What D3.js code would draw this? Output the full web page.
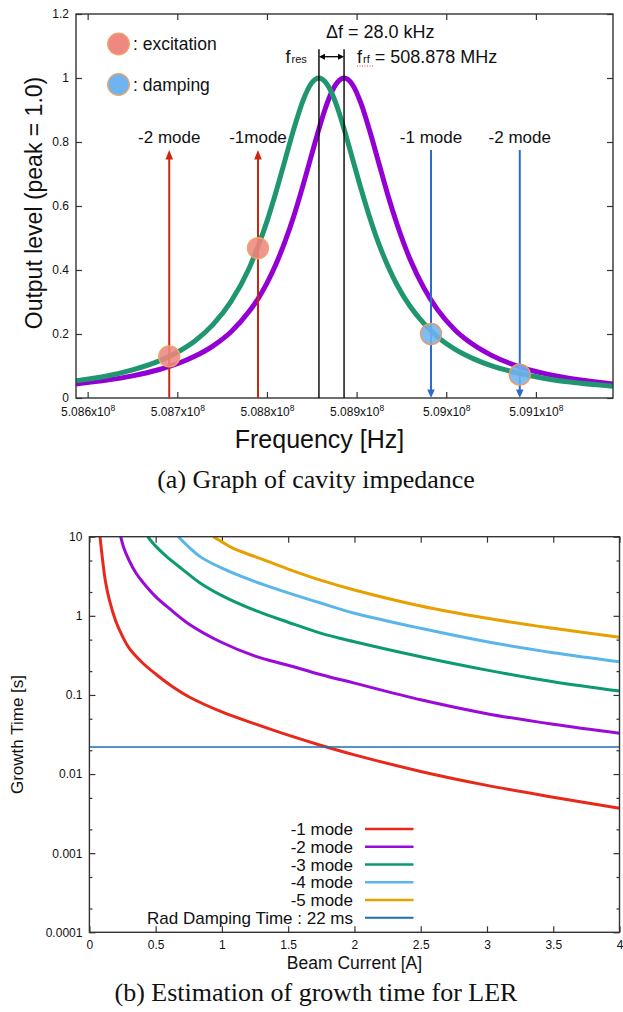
<!DOCTYPE html>
<html><head><meta charset="utf-8">
<script src="https://cdn.jsdelivr.net/npm/d3@7"></script>
<style>
html,body{margin:0;padding:0;background:#fff;}
svg{display:block;}
text{font-family:"Liberation Sans", Arial, Helvetica, sans-serif;fill:#111;}
</style></head><body>
<svg id="chart" width="623" height="1012"></svg>
<script>
// ===== Panel (a): cavity impedance =====
const freqMHz = [508.587, 508.62, 508.65, 508.68, 508.70, 508.72, 508.74, 508.76, 508.78, 508.79, 508.80, 508.81, 508.82, 508.83, 508.84, 508.85, 508.858, 508.865, 508.872, 508.879, 508.886, 508.895, 508.905, 508.915, 508.925, 508.935, 508.945, 508.96, 508.975, 508.99, 509.01, 509.03, 509.05, 509.08, 509.11, 509.15, 509.186];
const levelRes = [0.054, 0.068, 0.088, 0.116, 0.143, 0.179, 0.230, 0.302, 0.405, 0.473, 0.552, 0.643, 0.742, 0.841, 0.928, 0.985, 1.0, 0.988, 0.955, 0.904, 0.841, 0.752, 0.653, 0.561, 0.480, 0.412, 0.354, 0.285, 0.233, 0.192, 0.152, 0.123, 0.101, 0.078, 0.061, 0.046, 0.037];
const levelRf = [0.044, 0.055, 0.069, 0.089, 0.107, 0.131, 0.163, 0.207, 0.270, 0.310, 0.359, 0.418, 0.488, 0.569, 0.662, 0.762, 0.841, 0.904, 0.955, 0.988, 1.0, 0.981, 0.920, 0.831, 0.732, 0.633, 0.544, 0.431, 0.344, 0.277, 0.212, 0.167, 0.134, 0.099, 0.076, 0.056, 0.044];
const xTicksA = [508.6, 508.7, 508.8, 508.9, 509.0, 509.1];
const xTickLabelsA = ["5.086", "5.087", "5.088", "5.089", "5.09", "5.091"];
const yTicksA = [0, 0.2, 0.4, 0.6, 0.8, 1, 1.2];
const yTickLabelsA = ["0", "0.2", "0.4", "0.6", "0.8", "1", "1.2"];
const fRes = 508.858, fRf = 508.886;
const excitationLabels = ["-2 mode", "-1mode"];
const excitationFreq = [508.691, 508.790];
const excitationLevel = [0.13, 0.468];
const dampingLabels = ["-1 mode", "-2 mode"];
const dampingFreq = [508.983, 509.082];
const dampingLevel = [0.2, 0.073];
const arrowLevel = 0.775;

// ===== Panel (b): growth time =====
const currentTicks = [0, 0.5, 1, 1.5, 2, 2.5, 3, 3.5, 4];
const currentTickLabels = ["0", "0.5", "1", "1.5", "2", "2.5", "3", "3.5", "4"];
const tauTicks = [1e-4, 1e-3, 1e-2, 0.1, 1, 10];
const tauTickLabels = ["0.0001", "0.001", "0.01", "0.1", "1", "10"];
const mode1 = [[0.08,10],[0.1,5.0],[0.12,2.8],[0.15,1.6],[0.2,0.85],[0.25,0.55],[0.3,0.39],[0.4,0.255],[0.5,0.184],[0.625,0.128],[0.75,0.095],[1.0,0.061],[1.25,0.043],[1.5,0.031],[1.75,0.023],[2.0,0.0175],[2.5,0.0108],[3.0,0.0072],[3.5,0.0051],[4.0,0.0037]];
const mode2 = [[0.236,10],[0.26,7.2],[0.3,5.0],[0.35,3.5],[0.4,2.7],[0.5,1.75],[0.6,1.25],[0.75,0.79],[1.0,0.46],[1.25,0.31],[1.5,0.237],[1.75,0.18],[2.0,0.141],[2.5,0.087],[3.0,0.058],[3.5,0.0425],[4.0,0.0327]];
const mode3 = [[0.44,10],[0.5,7.6],[0.583,5.6],[0.7,3.9],[0.835,2.6],[1.0,1.8],[1.25,1.17],[1.5,0.83],[1.75,0.6],[2.0,0.47],[2.5,0.304],[3.0,0.206],[3.5,0.147],[4.0,0.112]];
const mode4 = [[0.671,10],[0.75,7.4],[0.835,5.6],[1.0,4.0],[1.25,2.7],[1.5,1.95],[1.75,1.44],[2.0,1.08],[2.5,0.695],[3.0,0.47],[3.5,0.342],[4.0,0.263]];
const mode5 = [[0.935,10],[1.0,8.6],[1.086,7.1],[1.25,5.6],[1.5,3.9],[1.75,2.8],[2.0,2.12],[2.5,1.33],[3.0,0.93],[3.5,0.695],[4.0,0.535]];
const radDampingTime = 0.022;
const legendLabels = ["-1 mode", "-2 mode", "-3 mode", "-4 mode", "-5 mode", "Rad Damping Time : 22 ms"];
const modeColors = ["#e8281a", "#9a0ad8", "#0c9a72", "#5ab6ea", "#e8a000", "#1f6fae"];

const svg = d3.select("#chart");
const axisColor = "#333";

// ---------------- Panel (a) ----------------
const A = {l: 76, r: 613, t: 14, b: 398};
const xA = d3.scaleLinear().domain([508.587, 509.186]).range([A.l, A.r]);
const yA = d3.scaleLinear().domain([0, 1.2]).range([A.b, A.t]);
const gA = svg.append("g");
svg.append("defs").append("clipPath").attr("id", "clipA")
  .append("rect").attr("x", A.l).attr("y", A.t).attr("width", A.r - A.l).attr("height", A.b - A.t);

function styleAxis(g) {
  g.select(".domain").remove();
  g.selectAll(".tick line").attr("stroke", axisColor).attr("stroke-width", 1.2);
  g.selectAll(".tick text").attr("font-size", "12px").attr("fill", "#111")
    .attr("font-family", "'Liberation Sans', Arial, sans-serif");
}

const xAxA = gA.append("g").attr("transform", `translate(0,${A.b})`)
  .call(d3.axisBottom(xA).tickValues(xTicksA).tickSize(-6).tickPadding(9).tickFormat((d, i) => xTickLabelsA[i]));
styleAxis(xAxA);
xAxA.selectAll(".tick text").each(function(d, i) {
  const t = d3.select(this);
  t.text(null);
  t.append("tspan").text(xTickLabelsA[i] + "x10");
  t.append("tspan").attr("dy", "-5").attr("font-size", "8.5px").text("8");
});
styleAxis(gA.append("g").attr("transform", `translate(0,${A.t})`)
  .call(d3.axisTop(xA).tickValues(xTicksA).tickSize(-6).tickFormat("")));
styleAxis(gA.append("g").attr("transform", `translate(${A.l},0)`)
  .call(d3.axisLeft(yA).tickValues(yTicksA).tickSize(-6).tickPadding(7).tickFormat((d, i) => yTickLabelsA[i])));
styleAxis(gA.append("g").attr("transform", `translate(${A.r},0)`)
  .call(d3.axisRight(yA).tickValues(yTicksA).tickSize(-6).tickFormat("")));

const lineA = d3.line().x(d => xA(d[0])).y(d => yA(d[1])).curve(d3.curveMonotoneX);
const curvesA = gA.append("g").attr("clip-path", "url(#clipA)");
curvesA.append("path").datum(freqMHz.map((f, i) => [f, levelRf[i]]))
  .attr("d", lineA).attr("fill", "none").attr("stroke", "#9400d3").attr("stroke-width", 5);
curvesA.append("path").datum(freqMHz.map((f, i) => [f, levelRes[i]]))
  .attr("d", lineA).attr("fill", "none").attr("stroke", "#1f9670").attr("stroke-width", 5);

gA.append("rect").attr("x", A.l).attr("y", A.t).attr("width", A.r - A.l).attr("height", A.b - A.t)
  .attr("fill", "none").attr("stroke", axisColor).attr("stroke-width", 1.4);

// resonance / rf vertical lines
const vTop = 49.3;
[fRes, fRf].forEach(f => {
  gA.append("line").attr("x1", xA(f)).attr("x2", xA(f)).attr("y1", vTop).attr("y2", yA(0))
    .attr("stroke", "#000").attr("stroke-width", 1.4);
});
// double arrow
const dy = 56.7, x1 = xA(fRes), x2 = xA(fRf);
gA.append("line").attr("x1", x1 + 4).attr("x2", x2 - 4).attr("y1", dy).attr("y2", dy).attr("stroke", "#000").attr("stroke-width", 1.3);
gA.append("path").attr("d", `M${x1},${dy}L${x1 + 6},${dy - 3}L${x1 + 6},${dy + 3}Z`).attr("fill", "#000");
gA.append("path").attr("d", `M${x2},${dy}L${x2 - 6},${dy - 3}L${x2 - 6},${dy + 3}Z`).attr("fill", "#000");

// excitation arrows (up, red)
const redC = "#c9280e", blueC = "#2d6cc6";
excitationFreq.forEach((f, i) => {
  const x = xA(f), tip = yA(arrowLevel);
  gA.append("line").attr("x1", x).attr("x2", x).attr("y1", yA(0)).attr("y2", tip + 8)
    .attr("stroke", redC).attr("stroke-width", 2);
  gA.append("path").attr("d", `M${x},${tip}L${x - 3.8},${tip + 9.5}L${x + 3.8},${tip + 9.5}Z`).attr("fill", redC);
  gA.append("text").attr("x", x).attr("y", tip - 7.5).attr("text-anchor", "middle")
    .attr("font-size", "17px").text(excitationLabels[i]);
});
// damping arrows (down, blue)
dampingFreq.forEach((f, i) => {
  const x = xA(f), tip = yA(0), top = yA(arrowLevel);
  gA.append("line").attr("x1", x).attr("x2", x).attr("y1", top).attr("y2", tip - 8)
    .attr("stroke", blueC).attr("stroke-width", 2);
  gA.append("path").attr("d", `M${x},${tip}L${x - 3.8},${tip - 8.5}L${x + 3.8},${tip - 8.5}Z`).attr("fill", blueC);
  gA.append("text").attr("x", x).attr("y", top - 7.5).attr("text-anchor", "middle")
    .attr("font-size", "17px").text(dampingLabels[i]);
});
// circles
excitationFreq.forEach((f, i) => {
  gA.append("circle").attr("cx", xA(f)).attr("cy", yA(excitationLevel[i])).attr("r", 10.5)
    .attr("fill", "#ee8880").attr("fill-opacity", 0.88).attr("stroke", "#f0a468").attr("stroke-width", 1.3);
});
dampingFreq.forEach((f, i) => {
  gA.append("circle").attr("cx", xA(f)).attr("cy", yA(dampingLevel[i])).attr("r", 10.5)
    .attr("fill", "#6fb4ef").attr("fill-opacity", 0.88).attr("stroke", "#ec9a62").attr("stroke-width", 1.3);
});

// legend (a)
const legA = [["#ee8880", ": excitation", 44], ["#6fb4ef", ": damping", 84.5]];
legA.forEach(d => {
  gA.append("circle").attr("cx", 118.5).attr("cy", d[2]).attr("r", 10.8)
    .attr("fill", d[0]).attr("stroke", "#f0a468").attr("stroke-width", 1.3);
  gA.append("text").attr("x", 133).attr("y", d[2] + 6).attr("font-size", "17.5px").text(d[1]);
});

// annotation texts
gA.append("text").attr("x", 326).attr("y", 37.7).attr("font-size", "18px").text("\u0394f = 28.0 kHz");
const tRes = gA.append("text").attr("x", 285.5).attr("y", 62.5).attr("font-size", "18px");
tRes.append("tspan").text("f");
tRes.append("tspan").attr("font-size", "11px").attr("dx", "1").text("res");
const tRf = gA.append("text").attr("x", 357).attr("y", 62.5).attr("font-size", "18px");
tRf.append("tspan").text("f");
tRf.append("tspan").attr("font-size", "11px").attr("dx", "1").text("rf");
tRf.append("tspan").attr("dx", "5").text("= 508.878 MHz");
gA.append("line").attr("x1", 357).attr("x2", 373).attr("y1", 66).attr("y2", 66)
  .attr("stroke", "#e04040").attr("stroke-width", 1).attr("stroke-dasharray", "1,1.5");

// axis labels (a)
gA.append("text").attr("transform", `translate(42,${(A.t + A.b) / 2 - 3}) rotate(-90)`)
  .attr("text-anchor", "middle").attr("font-size", "23px").text("Output level (peak = 1.0)");
gA.append("text").attr("x", 319.5).attr("y", 448).attr("text-anchor", "middle")
  .attr("font-size", "25px").text("Frequency [Hz]");
svg.append("text").attr("x", 316).attr("y", 488).attr("text-anchor", "middle")
  .attr("font-size", "26px")
  .style("font-family", "'Liberation Serif', 'Times New Roman', serif")
  .text("(a) Graph of cavity impedance");

// ---------------- Panel (b) ----------------
const B = {l: 89.4, r: 619.5, t: 536.7, b: 932.3};
const xB = d3.scaleLinear().domain([0, 4]).range([B.l, B.r]);
const yB = d3.scaleLog().domain([1e-4, 10]).range([B.b, B.t]);
const gB = svg.append("g");
svg.select("defs").append("clipPath").attr("id", "clipB")
  .append("rect").attr("x", B.l).attr("y", B.t).attr("width", B.r - B.l).attr("height", B.b - B.t);

const minorB = [];
tauTicks.slice(0, -1).forEach(t => { minorB.push(2 * t, 5 * t); });

styleAxis(gB.append("g").attr("transform", `translate(0,${B.b})`)
  .call(d3.axisBottom(xB).tickValues(currentTicks).tickSize(-6).tickPadding(8).tickFormat((d, i) => currentTickLabels[i])));
styleAxis(gB.append("g").attr("transform", `translate(0,${B.t})`)
  .call(d3.axisTop(xB).tickValues(currentTicks).tickSize(-6).tickFormat("")));
styleAxis(gB.append("g").attr("transform", `translate(${B.l},0)`)
  .call(d3.axisLeft(yB).tickValues(tauTicks).tickSize(-6).tickPadding(7).tickFormat((d, i) => tauTickLabels[i])));
styleAxis(gB.append("g").attr("transform", `translate(${B.l},0)`)
  .call(d3.axisLeft(yB).tickValues(minorB).tickSize(-3).tickFormat("")));
styleAxis(gB.append("g").attr("transform", `translate(${B.r},0)`)
  .call(d3.axisRight(yB).tickValues(tauTicks).tickSize(-6).tickFormat("")));
styleAxis(gB.append("g").attr("transform", `translate(${B.r},0)`)
  .call(d3.axisRight(yB).tickValues(minorB).tickSize(-3).tickFormat("")));
gB.selectAll(".tick text").attr("font-size", "12px");

const lineB = d3.line().x(d => xB(d[0])).y(d => yB(d[1])).curve(d3.curveCatmullRom.alpha(0.5));
const curvesB = gB.append("g").attr("clip-path", "url(#clipB)");
[mode1, mode2, mode3, mode4, mode5].forEach((m, i) => {
  curvesB.append("path").datum(m).attr("d", lineB).attr("fill", "none")
    .attr("stroke", modeColors[i]).attr("stroke-width", 3);
});
curvesB.append("line").attr("x1", xB(0)).attr("x2", xB(4)).attr("y1", yB(radDampingTime)).attr("y2", yB(radDampingTime))
  .attr("stroke", modeColors[5]).attr("stroke-width", 1.6);

gB.append("rect").attr("x", B.l).attr("y", B.t).attr("width", B.r - B.l).attr("height", B.b - B.t)
  .attr("fill", "none").attr("stroke", axisColor).attr("stroke-width", 1.4);

// legend (b)
legendLabels.forEach((lab, i) => {
  const cy = 829 + i * 17.75;
  gB.append("text").attr("x", 353).attr("y", cy + 6).attr("text-anchor", "end")
    .attr("font-size", "17px").text(lab);
  gB.append("line").attr("x1", 365).attr("x2", 413.5).attr("y1", cy).attr("y2", cy)
    .attr("stroke", modeColors[i]).attr("stroke-width", i === 5 ? 2 : 2.7);
});

// axis labels (b)
gB.append("text").attr("transform", `translate(23,${(B.t + B.b) / 2}) rotate(-90)`)
  .attr("text-anchor", "middle").attr("font-size", "17px").text("Growth Time [s]");
gB.append("text").attr("x", (B.l + B.r) / 2).attr("y", 969).attr("text-anchor", "middle")
  .attr("font-size", "17.5px").text("Beam Current [A]");
svg.append("text").attr("x", 316).attr("y", 1001).attr("text-anchor", "middle")
  .attr("font-size", "26px")
  .style("font-family", "'Liberation Serif', 'Times New Roman', serif")
  .text("(b) Estimation of growth time for LER");
</script>
</body></html>
